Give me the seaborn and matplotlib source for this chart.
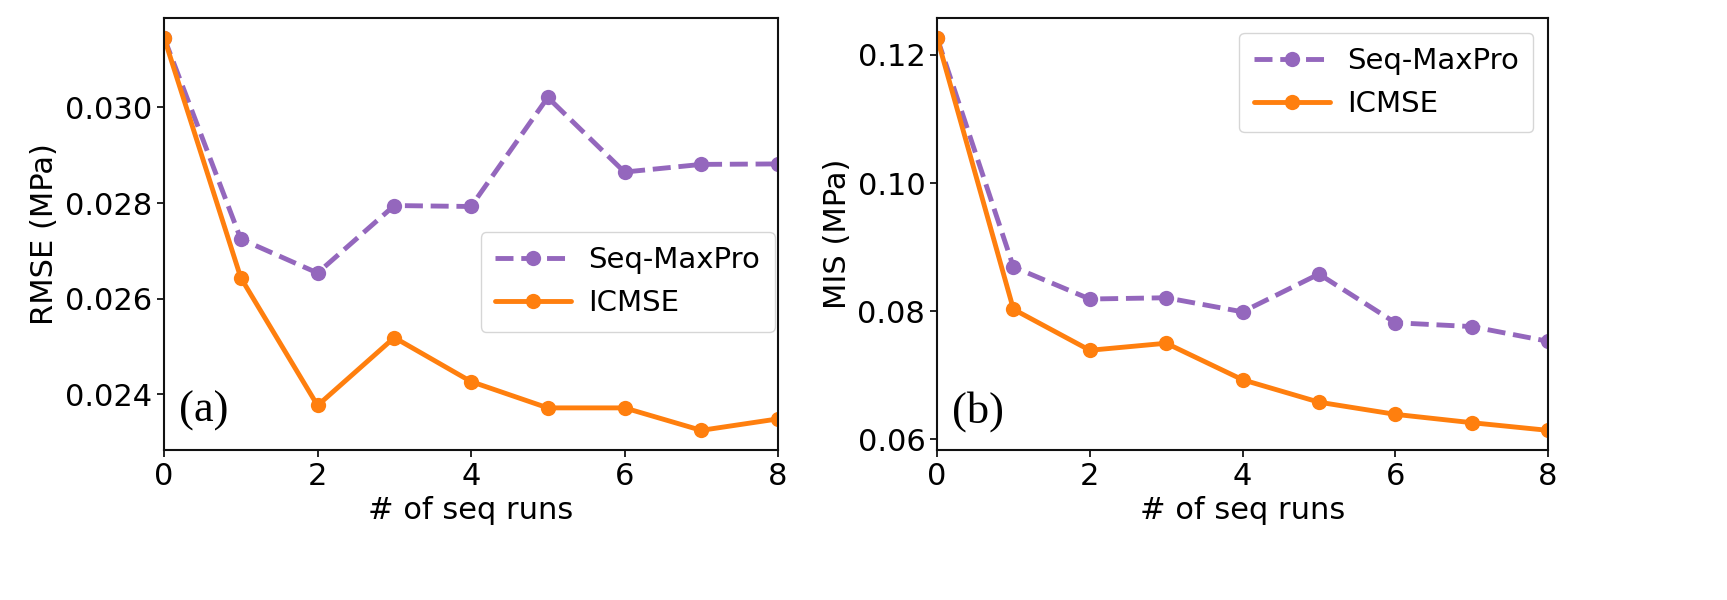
import pandas as pd
import matplotlib
matplotlib.use("Agg")
import matplotlib.pyplot as plt
import seaborn as sns

# === DADOS ===
seq_runs = [0, 1, 2, 3, 4, 5, 6, 7, 8]

rmse_maxpro = [0.03146, 0.02725, 0.02654, 0.02795, 0.02793, 0.03021, 0.02865, 0.02881, 0.02882]
rmse_icmse = [0.03146, 0.02644, 0.02377, 0.02519, 0.02427, 0.02372, 0.02372, 0.02325, 0.02349]

mis_maxpro = [0.1227, 0.0869, 0.0819, 0.0821, 0.0799, 0.0858, 0.0782, 0.0776, 0.0753]
mis_icmse = [0.1227, 0.0803, 0.0739, 0.0750, 0.0693, 0.0658, 0.0639, 0.0626, 0.0614]

# === ESTILO ===
sns.set_style("ticks")
plt.rcParams["font.family"] = ["DejaVu Sans"]
plt.rcParams["text.color"] = "black"
plt.rcParams["axes.labelcolor"] = "black"
plt.rcParams["xtick.color"] = "black"
plt.rcParams["ytick.color"] = "black"
roxo = "#9467bd"
laranja = "#ff7f0e"

fig = plt.figure(figsize=(17.27, 6), dpi=100)
ax1 = fig.add_axes([0.095, 0.25, 0.3555, 0.72])
ax2 = fig.add_axes([0.5426, 0.25, 0.3538, 0.72])


def painel(ax, maxpro, icmse, ylabel, letra):
    df = pd.DataFrame({"x": seq_runs, "maxpro": maxpro, "icmse": icmse})
    sns.lineplot(data=df, x="x", y="maxpro", ax=ax, color=roxo, linestyle="--",
                 marker="o", markersize=11, markeredgewidth=0, linewidth=3.5,
                 label="Seq-MaxPro")
    sns.lineplot(data=df, x="x", y="icmse", ax=ax, color=laranja, linestyle="-",
                 marker="o", markersize=11, markeredgewidth=0, linewidth=3.5,
                 label="ICMSE")
    ax.set_xlim(0, 8)
    ax.set_xticks([0, 2, 4, 6, 8])
    ax.set_xlabel("# of seq runs", fontsize=22)
    ax.set_ylabel(ylabel, fontsize=22)
    ax.tick_params(labelsize=22, length=5, width=1.2)
    for s in ax.spines.values():
        s.set_visible(True)
        s.set_linewidth(1.5)
        s.set_color("#111111")
    ax.text(0.025, 0.09, letra, transform=ax.transAxes, fontsize=32,
            family="Liberation Serif", va="center", ha="left")


painel(ax1, rmse_maxpro, rmse_icmse, "RMSE (MPa)", "(a)")
ax1.set_yticks([0.024, 0.026, 0.028, 0.030])
ax1.set_yticklabels(["0.024", "0.026", "0.028", "0.030"])
ax1.legend(loc="upper right", bbox_to_anchor=(0.995, 0.505), borderaxespad=0,
           fontsize=21, handlelength=2.6, handletextpad=0.6,
           borderpad=0.5, labelspacing=0.5)

painel(ax2, mis_maxpro, mis_icmse, "MIS (MPa)", "(b)")
ax2.set_yticks([0.06, 0.08, 0.10, 0.12])
ax2.set_yticklabels(["0.06", "0.08", "0.10", "0.12"])
ax2.legend(loc="upper right", fontsize=21, handlelength=2.6, handletextpad=0.6,
           borderpad=0.5, labelspacing=0.5)

fig.savefig("out.png", dpi=100)
